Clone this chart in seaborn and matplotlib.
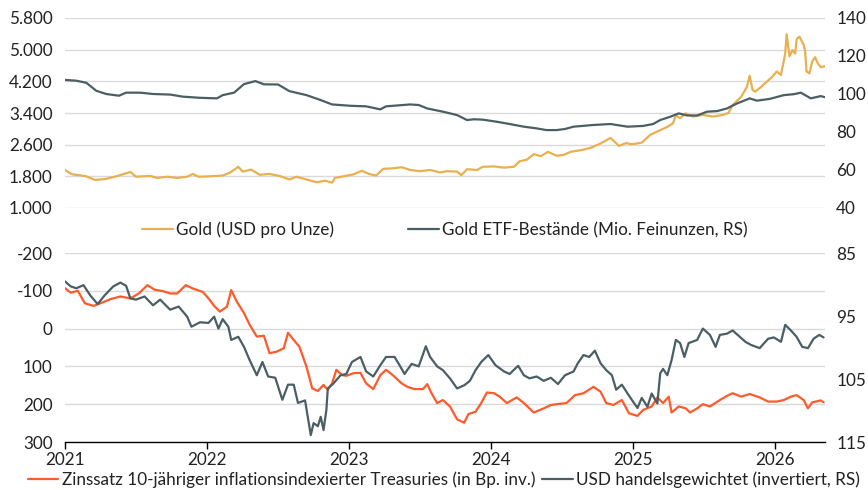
"""
Gold, ETF-Bestände, Realzins und USD
====================================

Zwei Panels: oben Goldpreis und ETF-Bestände, unten Realzins und USD.
"""

import matplotlib
matplotlib.use('Agg')
import matplotlib.pyplot as plt
from matplotlib.ticker import FuncFormatter
import seaborn as sns

# --- Oberes Panel: Goldpreis (USD pro Unze) ---
gold_t = [2021.00, 2021.05, 2021.10, 2021.15, 2021.21, 2021.28, 2021.36, 2021.46, 2021.50, 2021.60,
          2021.65, 2021.72, 2021.79, 2021.86, 2021.90, 2021.94, 2022.02, 2022.11, 2022.16, 2022.22,
          2022.25, 2022.31, 2022.37, 2022.44, 2022.51, 2022.58, 2022.63, 2022.70, 2022.77, 2022.83,
          2022.88, 2022.90, 2022.96, 2023.03, 2023.09, 2023.14, 2023.19, 2023.24, 2023.30, 2023.37,
          2023.43, 2023.50, 2023.57, 2023.64, 2023.69, 2023.76, 2023.79, 2023.83, 2023.90, 2023.94,
          2024.02, 2024.09, 2024.16, 2024.20, 2024.25, 2024.30, 2024.35, 2024.40, 2024.46, 2024.51,
          2024.56, 2024.63, 2024.70, 2024.77, 2024.84, 2024.90, 2024.95, 2024.99, 2025.06, 2025.12,
          2025.18, 2025.24, 2025.28, 2025.30, 2025.33, 2025.37, 2025.42, 2025.49, 2025.56, 2025.63,
          2025.67, 2025.70, 2025.76, 2025.80, 2025.82, 2025.84, 2025.86, 2025.90, 2025.94, 2025.98,
          2026.01, 2026.04, 2026.07, 2026.08, 2026.10, 2026.12, 2026.14, 2026.15, 2026.17, 2026.20,
          2026.21, 2026.22, 2026.24, 2026.26, 2026.28, 2026.30, 2026.32, 2026.35]
gold_usd = [1960, 1850, 1830, 1800, 1710, 1730, 1800, 1910, 1790, 1810,
            1760, 1790, 1760, 1790, 1860, 1790, 1800, 1820, 1890, 2040,
            1920, 1970, 1840, 1860, 1810, 1720, 1790, 1720, 1650, 1690,
            1640, 1760, 1800, 1850, 1940, 1860, 1820, 1990, 2000, 2030,
            1960, 1930, 1960, 1900, 1930, 1920, 1830, 1980, 1960, 2040,
            2050, 2020, 2040, 2180, 2220, 2360, 2310, 2420, 2320, 2340,
            2420, 2460, 2520, 2630, 2770, 2570, 2640, 2610, 2650, 2850,
            2950, 3050, 3140, 3340, 3270, 3390, 3310, 3350, 3310, 3350,
            3400, 3600, 3810, 4060, 4340, 3980, 3940, 4060, 4190, 4320,
            4450, 4360, 4900, 5390, 4830, 4990, 4900, 5260, 5330, 5120,
            4960, 4450, 4400, 4700, 4810, 4650, 4560, 4580]

# --- Oberes Panel: Gold ETF-Bestände (Mio. Feinunzen, RS) ---
etf_t = [2021.00, 2021.08, 2021.15, 2021.22, 2021.29, 2021.38, 2021.43, 2021.53, 2021.62, 2021.74,
         2021.83, 2021.95, 2022.07, 2022.11, 2022.19, 2022.26, 2022.34, 2022.40, 2022.50, 2022.58,
         2022.70, 2022.80, 2022.88, 2023.01, 2023.12, 2023.22, 2023.26, 2023.43, 2023.49, 2023.55,
         2023.66, 2023.76, 2023.83, 2023.88, 2023.94, 2024.04, 2024.13, 2024.23, 2024.32, 2024.39,
         2024.46, 2024.52, 2024.58, 2024.72, 2024.84, 2024.96, 2025.07, 2025.14, 2025.19, 2025.26,
         2025.32, 2025.38, 2025.45, 2025.52, 2025.59, 2025.66, 2025.73, 2025.82, 2025.87, 2025.96,
         2026.06, 2026.13, 2026.18, 2026.25, 2026.32, 2026.35]
etf_moz = [107.4, 107.0, 105.9, 101.7, 100.0, 99.1, 100.7, 100.7, 100.0, 99.7,
           98.6, 98.0, 97.7, 99.4, 100.7, 105.2, 106.8, 105.1, 105.0, 101.5,
           99.4, 96.8, 94.5, 93.8, 93.5, 91.9, 93.5, 94.5, 94.2, 92.4,
           90.7, 88.9, 86.3, 86.7, 86.5, 85.4, 84.2, 82.8, 81.9, 81.0,
           81.0, 81.6, 82.8, 83.7, 84.2, 82.8, 83.2, 84.2, 86.3, 88.0,
           89.8, 88.7, 88.7, 90.7, 91.0, 92.4, 95.0, 97.7, 96.5, 97.4,
           99.4, 99.9, 100.7, 97.7, 98.9, 98.3]

# --- Unteres Panel: Zinssatz 10-jähriger TIPS (Bp., invertiert) ---
ry_t = [2021.00, 2021.04, 2021.09, 2021.14, 2021.20, 2021.25, 2021.32, 2021.39, 2021.46, 2021.52,
        2021.58, 2021.63, 2021.69, 2021.74, 2021.79, 2021.85, 2021.90, 2021.97, 2022.01, 2022.05,
        2022.09, 2022.14, 2022.17, 2022.21, 2022.26, 2022.30, 2022.35, 2022.40, 2022.44, 2022.49,
        2022.54, 2022.57, 2022.61, 2022.65, 2022.70, 2022.74, 2022.78, 2022.82, 2022.85, 2022.88,
        2022.91, 2022.95, 2022.98, 2023.03, 2023.08, 2023.12, 2023.17, 2023.22, 2023.26, 2023.31,
        2023.37, 2023.41, 2023.46, 2023.52, 2023.55, 2023.58, 2023.62, 2023.66, 2023.71, 2023.76,
        2023.81, 2023.84, 2023.89, 2023.93, 2023.97, 2024.02, 2024.06, 2024.11, 2024.18, 2024.23,
        2024.30, 2024.37, 2024.42, 2024.46, 2024.53, 2024.59, 2024.65, 2024.72, 2024.77, 2024.81,
        2024.86, 2024.92, 2024.97, 2025.03, 2025.07, 2025.13, 2025.17, 2025.21, 2025.25, 2025.27,
        2025.32, 2025.37, 2025.40, 2025.45, 2025.49, 2025.54, 2025.61, 2025.66, 2025.70, 2025.76,
        2025.82, 2025.89, 2025.95, 2026.01, 2026.06, 2026.11, 2026.15, 2026.20, 2026.23, 2026.26,
        2026.32, 2026.34]
ry_bp = [-107, -95, -100, -67, -60, -67, -78, -85, -80, -93,
         -115, -103, -99, -93, -93, -115, -106, -97, -80, -60,
         -45, -58, -102, -71, -41, -10, 21, 19, 65, 61,
         52, 11, 30, 48, 101, 158, 165, 149, 162, 145,
         109, 123, 125, 118, 117, 145, 160, 123, 109, 124,
         145, 154, 160, 160, 147, 171, 197, 189, 206, 240,
         249, 226, 220, 197, 169, 171, 180, 197, 182, 197,
         222, 211, 202, 200, 197, 176, 171, 154, 167, 197,
         202, 189, 224, 231, 215, 206, 182, 197, 180, 222,
         206, 211, 222, 211, 200, 206, 189, 178, 171, 180,
         173, 182, 193, 193, 189, 180, 176, 189, 211, 195,
         190, 195]

# --- Unteres Panel: USD handelsgewichtet (invertiert, RS) ---
usd_t = [2021.00, 2021.04, 2021.08, 2021.13, 2021.18, 2021.23, 2021.28, 2021.34, 2021.39, 2021.43,
         2021.46, 2021.50, 2021.56, 2021.62, 2021.67, 2021.74, 2021.80, 2021.86, 2021.89, 2021.95,
         2022.01, 2022.05, 2022.08, 2022.11, 2022.15, 2022.17, 2022.22, 2022.26, 2022.30, 2022.35,
         2022.39, 2022.43, 2022.48, 2022.53, 2022.57, 2022.61, 2022.64, 2022.69, 2022.73, 2022.75,
         2022.78, 2022.80, 2022.82, 2022.84, 2022.85, 2022.89, 2022.94, 2022.98, 2023.02, 2023.08,
         2023.12, 2023.17, 2023.22, 2023.26, 2023.32, 2023.36, 2023.39, 2023.44, 2023.49, 2023.54,
         2023.57, 2023.62, 2023.66, 2023.71, 2023.76, 2023.81, 2023.85, 2023.89, 2023.93, 2023.98,
         2024.03, 2024.09, 2024.13, 2024.19, 2024.23, 2024.27, 2024.32, 2024.37, 2024.42, 2024.47,
         2024.52, 2024.58, 2024.61, 2024.65, 2024.69, 2024.73, 2024.77, 2024.81, 2024.85, 2024.88,
         2024.92, 2024.96, 2024.99, 2025.03, 2025.06, 2025.10, 2025.13, 2025.17, 2025.19, 2025.21,
         2025.24, 2025.27, 2025.30, 2025.33, 2025.36, 2025.39, 2025.45, 2025.49, 2025.54, 2025.58,
         2025.61, 2025.66, 2025.70, 2025.75, 2025.79, 2025.83, 2025.89, 2025.95, 2025.99, 2026.04,
         2026.07, 2026.11, 2026.15, 2026.19, 2026.23, 2026.27, 2026.31, 2026.34]
usd_idx = [89.5, 90.3, 90.6, 90.1, 91.8, 93.1, 91.7, 90.3, 89.7, 90.2,
           92.2, 92.4, 91.9, 93.3, 92.4, 94.0, 93.5, 95.1, 96.7, 96.0,
           96.1, 95.1, 97.0, 95.5, 96.7, 98.8, 98.3, 99.9, 102.0, 104.4,
           102.3, 104.6, 104.8, 108.3, 105.9, 105.9, 108.8, 108.4, 113.9, 112.0,
           112.5, 111.0, 113.1, 109.9, 106.5, 105.7, 104.4, 104.2, 102.3, 101.5,
           103.8, 104.6, 102.8, 101.5, 101.5, 103.0, 104.2, 102.6, 103.0, 99.8,
           101.5, 103.0, 103.6, 104.9, 106.5, 106.0, 105.3, 103.6, 102.3, 101.2,
           102.8, 103.8, 104.2, 102.9, 104.4, 104.9, 104.6, 105.3, 104.8, 105.8,
           104.4, 103.8, 102.5, 101.2, 101.5, 100.5, 102.5, 103.6, 104.4, 106.7,
           105.9, 107.3, 108.3, 109.6, 108.0, 109.4, 107.3, 108.9, 104.1, 103.4,
           104.4, 102.0, 98.8, 99.3, 101.5, 99.3, 98.8, 97.0, 98.0, 99.9,
           98.0, 97.8, 97.3, 98.3, 99.1, 99.6, 100.1, 98.6, 98.4, 99.1,
           96.4, 97.3, 98.3, 99.9, 100.1, 98.6, 98.0, 98.4]

years = [2021, 2022, 2023, 2024, 2025, 2026]

GOLD = '#E8B04E'
SLATE = '#4A5F64'
ORANGE = '#FF5A2C'
GRID = '#DADADA'
TEXT = '#222222'
LW = 1.6
FS = 12.3
X_MIN, X_MAX = 2021.0, 2026.35


def style_axis(ax, right=False):
    for side in ['top', 'right', 'left', 'bottom']:
        ax.spines[side].set_visible(False)
    ax.tick_params(axis='y', length=0, labelsize=FS, colors=TEXT, pad=8 if right else 9)
    ax.set_xlabel('')
    ax.set_ylabel('')


def main():
    sns.set_theme(style='white')
    plt.rcParams['font.family'] = ['Lato', 'DejaVu Sans']
    plt.rcParams['axes.unicode_minus'] = False

    fig = plt.figure(figsize=(8.68, 4.90), dpi=100)
    L, W = 65 / 868, 760 / 868

    # Top panel
    ax1 = fig.add_axes([L, 1 - 208 / 490, W, 190 / 490])
    ax1r = ax1.twinx()
    sns.lineplot(x=gold_t, y=gold_usd, ax=ax1, color=GOLD, linewidth=LW, sort=False)
    sns.lineplot(x=etf_t, y=etf_moz, ax=ax1r, color=SLATE, linewidth=LW, sort=False)
    ax1.set_xlim(X_MIN, X_MAX)
    ax1.set_ylim(1000, 5800)
    ax1.set_yticks(range(1000, 5801, 800))
    ax1.yaxis.set_major_formatter(FuncFormatter(lambda v, p: f"{int(v):,}".replace(',', '.')))
    ax1.grid(axis='y', color=GRID, linewidth=1)
    ax1.set_xticks([])
    ax1r.set_ylim(40, 140)
    ax1r.set_yticks(range(40, 141, 20))
    style_axis(ax1)
    style_axis(ax1r, right=True)

    # Bottom panel
    ax2 = fig.add_axes([L, 1 - 442 / 490, W, 189 / 490])
    ax2r = ax2.twinx()
    sns.lineplot(x=ry_t, y=ry_bp, ax=ax2, color=ORANGE, linewidth=LW, sort=False)
    sns.lineplot(x=usd_t, y=usd_idx, ax=ax2r, color=SLATE, linewidth=LW, sort=False)
    ax2.set_xlim(X_MIN, X_MAX)
    ax2.set_ylim(300, -200)
    ax2.set_yticks(range(-200, 301, 100))
    ax2.grid(axis='y', color=GRID, linewidth=1)
    ax2r.set_ylim(115, 85)
    ax2r.set_yticks([85, 95, 105, 115])
    style_axis(ax2)
    style_axis(ax2r, right=True)
    ax2.spines['bottom'].set_visible(True)
    ax2.spines['bottom'].set_color('black')
    ax2.spines['bottom'].set_linewidth(1)
    ax2.set_xticks(years)
    ax2.set_xticklabels([str(y) for y in years])
    ax2.tick_params(axis='x', length=5, width=1, color='black', direction='out',
                    labelsize=FS, labelcolor=TEXT, pad=2, bottom=True)

    # Legends
    top_handles = [ax1.get_lines()[0], ax1r.get_lines()[0]]
    fig.legend(top_handles,
               ['Gold (USD pro Unze)', 'Gold ETF-Bestände (Mio. Feinunzen, RS)'],
               loc='center', bbox_to_anchor=(445 / 868, 1 - 230 / 490), ncol=2,
               frameon=False, fontsize=FS, handlelength=1.8, handletextpad=0.2,
               columnspacing=4.3, labelcolor=TEXT)
    bottom_handles = [ax2.get_lines()[0], ax2r.get_lines()[0]]
    fig.legend(bottom_handles,
               ['Zinssatz 10-jähriger inflationsindexierter Treasuries (in Bp. inv.)',
                'USD handelsgewichtet (invertiert, RS)'],
               loc='center', bbox_to_anchor=(444 / 868, 1 - 480 / 490), ncol=2,
               frameon=False, fontsize=FS, handlelength=1.8, handletextpad=0.2,
               columnspacing=0.4, labelcolor=TEXT, borderpad=0.2)

    fig.savefig('out.png', dpi=100)
    plt.close(fig)


if __name__ == "__main__":
    main()
